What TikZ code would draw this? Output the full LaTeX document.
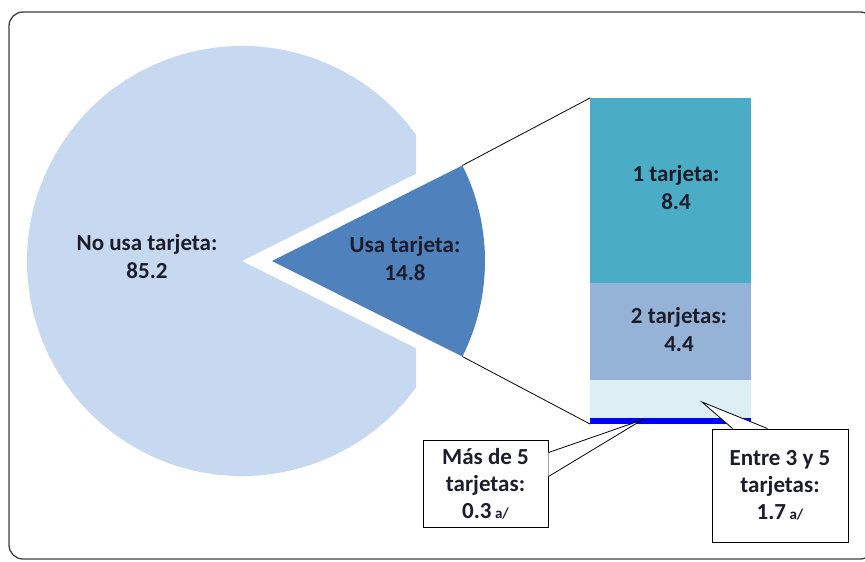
\documentclass[tikz,border=0pt]{standalone}
\usepackage{fontspec}
\setmainfont{Carlito}
\usetikzlibrary{calc}
\definecolor{lightpie}{HTML}{C6D9F1}
\definecolor{darkpie}{HTML}{4F81BD}
\definecolor{segA}{HTML}{4BACC6}
\definecolor{segB}{HTML}{95B3D7}
\definecolor{segC}{HTML}{DDEEF5}
\definecolor{segD}{HTML}{0000FF}
\definecolor{txt}{HTML}{1C1C2A}
\definecolor{frame}{HTML}{404040}
\tikzset{
  lbl/.style={font=\fontsize{23}{28}\selectfont\bfseries, text=txt, align=center, inner sep=0pt},
  seg/.style={minimum width=161pt, inner sep=0pt, outer sep=0pt, anchor=north},
  callbox/.style={draw=black, line width=0.9pt, fill=white, inner sep=0pt, align=center,
    font=\fontsize{23}{27}\selectfont\bfseries, text=txt},
  conn/.style={draw=black, line width=0.8pt},
}
\newcommand{\anote}{{\fontsize{15}{15}\selectfont\ a/}}
\begin{document}
\begin{tikzpicture}[x=1pt,y=-1pt]
\useasboundingbox (0,0) rectangle (865,562);
\fill[white] (0,0) rectangle (865,562);
% frame
\draw[frame, line width=1.3pt, rounded corners=14pt] (9,12) rectangle (874,559);
% light pie, clipped at the right
\begin{scope}
  \clip (0,0) rectangle (416,562);
  \fill[lightpie] (242,261) -- ++(26.65:215) arc[start angle=26.65, end angle=333.35, radius=215] -- cycle;
\end{scope}
% dark exploded wedge
\fill[darkpie] (272,261) -- ++(-26.65:213) arc[start angle=-26.65, end angle=26.65, radius=213] -- cycle;
\coordinate (wt) at ($(272,261)+(-26.65:213)$);
\coordinate (wb) at ($(272,261)+(26.65:213)$);
\node[lbl] (nouse) at (147,257) {No usa tarjeta:\\85.2};
\node[lbl] (use) at (405,259) {Usa tarjeta:\\14.8};
% bar
\node[seg, fill=segA, minimum height=185pt] (b1) at (670.5,98) {};
\node[seg, fill=segB, minimum height=97pt] (b2) at (b1.south) {};
\node[seg, fill=segC, minimum height=38pt] (b3) at (b2.south) {};
\node[seg, fill=segD, minimum height=6pt] (b4) at (b3.south) {};
\node[lbl] (t1) at (676,188) {1 tarjeta:\\8.4};
\node[lbl] (t2) at (679,330) {2 tarjetas:\\4.4};
% connectors from wedge to bar
\draw[conn] (wt) -- (b1.north west);
\draw[conn] (wb) -- (b4.south west);
% callouts
\node[callbox, minimum width=125pt, minimum height=87pt] (m5) at (485.5,483.5) {Más de 5\\tarjetas:\\0.3\anote};
\node[callbox, minimum width=136pt, minimum height=113pt] (e35) at (780,485.5) {Entre 3 y 5\\tarjetas:\\1.7\anote};
\coordinate (m5tip) at (642,420);
\coordinate (m5a) at ($(m5.north east)+(0,13)$);
\coordinate (m5b) at ($(m5.north east)+(0,37)$);
\fill[white] (m5a) -- (m5tip) -- (m5b) -- cycle;
\draw[conn] (m5a) -- (m5tip) -- (m5b);
\coordinate (e35tip) at (702,402);
\coordinate (e35a) at ($(e35.north west)+(21,0)$);
\coordinate (e35b) at ($(e35.north west)+(56,0)$);
\fill[white] (e35a) -- (e35tip) -- (e35b) -- cycle;
\draw[conn] (e35a) -- (e35tip) -- (e35b);
\end{tikzpicture}
\end{document}
